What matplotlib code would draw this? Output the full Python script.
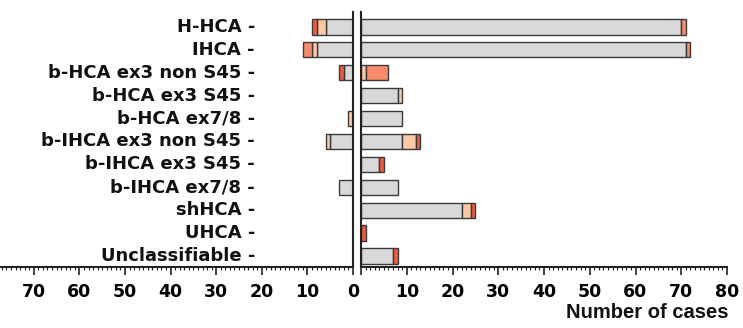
import matplotlib
matplotlib.use("Agg")
import matplotlib.pyplot as plt
import numpy as np
from matplotlib.ticker import MultipleLocator

categories = ['H-HCA', 'IHCA', 'b-HCA ex3 non S45', 'b-HCA ex3 S45', 'b-HCA ex7/8',
              'b-IHCA ex3 non S45', 'b-IHCA ex3 S45', 'b-IHCA ex7/8', 'shHCA', 'UHCA',
              'Unclassifiable']

left_gray   = [6, 8, 2, 0, 0, 5, 0, 3, 0, 0, 0]
left_peach  = [2, 1, 0, 0, 1, 1, 0, 0, 0, 0, 0]
left_salmon = [0, 2, 0, 0, 0, 0, 0, 0, 0, 0, 0]
left_red    = [1, 0, 1, 0, 0, 0, 0, 0, 0, 0, 0]

right_gray   = [70, 71, 0, 8, 9, 9, 4, 8, 22, 0, 7]
right_peach  = [0, 0, 1, 1, 0, 3, 0, 0, 2, 0, 0]
right_salmon = [1, 1, 5, 0, 0, 0, 0, 0, 0, 0, 0]
right_red    = [0, 0, 0, 0, 0, 1, 1, 0, 1, 1, 1]

left_tick_values = [0, 10, 20, 30, 40, 50, 60, 70]
right_tick_values = [0, 10, 20, 30, 40, 50, 60, 70, 80]
right_tick_labels = ['', '10', '20', '30', '40', '50', '60', '70', '80']
xlabel = 'Number of cases'

colors = ['#d9d9d9', '#fcc8a5', '#f88a6c', '#ee5a40']
edge = '#3a3a3a'

W, H = 743, 328
fig = plt.figure(figsize=(W / 100, H / 100), dpi=100)

top = 1 - 12 / H
bot = 1 - 267 / H
axL = fig.add_axes([0, bot, 353 / W, top - bot])
axR = fig.add_axes([361 / W, bot, (727 - 361) / W, top - bot])

y = np.arange(len(categories))
bh = 0.67


def stack(ax, series):
    cum = np.zeros(len(categories))
    for vals, col in zip(series, colors):
        vals = np.array(vals, dtype=float)
        mask = vals > 0
        ax.barh(y[mask], vals[mask], left=cum[mask], height=bh, color=col,
                edgecolor=edge, linewidth=1.0, zorder=2)
        cum += vals


stack(axL, [left_gray, left_peach, left_salmon, left_red])
stack(axR, [right_gray, right_peach, right_salmon, right_red])

axL.set_xlim(353 / 4.56, 0)
axR.set_xlim(0, 80)
for ax in (axL, axR):
    ax.set_ylim(10.48, -0.65)
    ax.spines['top'].set_visible(False)
    ax.set_yticks([])
    ax.xaxis.set_major_locator(MultipleLocator(10))
    ax.xaxis.set_minor_locator(MultipleLocator(1))
    ax.tick_params(axis='x', which='major', length=5.5, width=1.2, color='#222222', pad=6)
    ax.tick_params(axis='x', which='minor', length=2.5, width=0.8, color='#222222')
    ax.spines['bottom'].set_linewidth(1.5)
    ax.spines['bottom'].set_color('#222222')
    ax.patch.set_alpha(0)

axL.spines['left'].set_visible(False)
axL.spines['right'].set_linewidth(1.5)
axL.spines['right'].set_color('#222222')
axR.spines['right'].set_visible(False)
axR.spines['left'].set_linewidth(1.5)
axR.spines['left'].set_color('#222222')

tick_font = dict(family='DejaVu Sans', weight='bold', size=12.5)
axL.set_xticks(left_tick_values)
axL.set_xticklabels([str(v) for v in left_tick_values], fontdict=tick_font)
axR.set_xticks(right_tick_values)
axR.set_xticklabels(right_tick_labels, fontdict=tick_font)

for i, c in enumerate(categories):
    axL.text(21.5, i, c + ' -', ha='right', va='center', family='DejaVu Sans',
             weight='bold', size=13, color='#111111')

fig.text(728 / W, 1 - 312 / H, xlabel, ha='right', va='center',
         family='Liberation Sans', weight='bold', size=14.5, color='#111111')

fig.savefig('out.png', dpi=100)
